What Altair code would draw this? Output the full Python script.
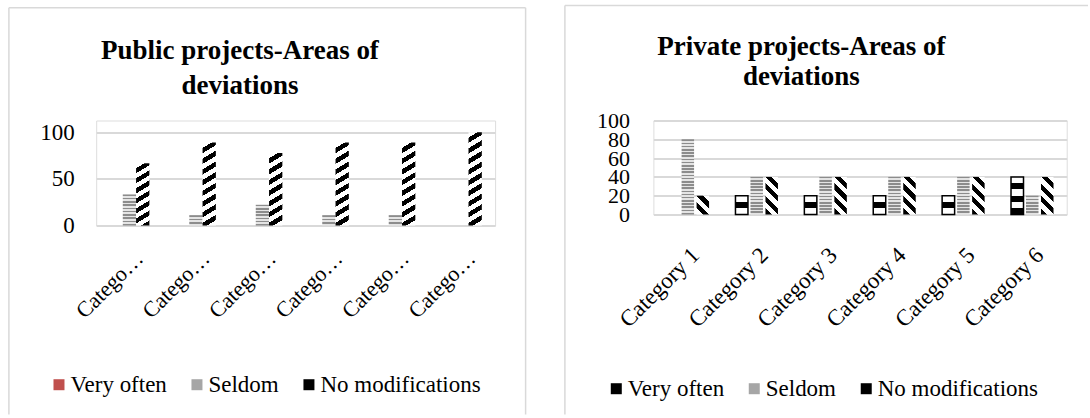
import altair as alt
import pandas as pd

# ---------------- data ----------------
categories = ["Category 1", "Category 2", "Category 3", "Category 4", "Category 5", "Category 6"]
series_names = ["Very often", "Seldom", "No modifications"]

public_very_often = [0, 0, 0, 0, 0, 0]
public_seldom = [33.3, 11.1, 22.2, 11.1, 11.1, 0]
public_no_modifications = [66.7, 88.9, 77.8, 88.9, 88.9, 100]

private_very_often = [0, 20, 20, 20, 20, 40]
private_seldom = [80, 40, 40, 40, 40, 20]
private_no_modifications = [20, 40, 40, 40, 40, 40]

public_ticks = [0, 50, 100]
private_ticks = [0, 20, 40, 60, 80, 100]

public_title = ["Public projects-Areas of", "deviations"]
private_title = ["Private projects-Areas of", "deviations"]

FONT = "Liberation Serif"
GRID = "#d9d9d9"


def long_table(vo, se, nm):
    rows = []
    for s, vals in zip(series_names, [vo, se, nm]):
        for c, v in zip(categories, vals):
            rows.append({"cat": c, "series": s, "val": v})
    return pd.DataFrame(rows)


def stripe_fill(colors, n, kind, k=0.0):
    n = max(1, int(n))
    if kind == "h":
        x1, y1, x2, y2 = 0, 0, 0, 1
    else:
        s = (k + 1) / (k * k + 1)
        if kind == "/":
            x1, y1, x2, y2 = 0, 0, s * k, s
        else:
            x1, y1, x2, y2 = 1, 0, 1 - s * k, s
    stops = []
    for i in range(n):
        col = colors[i % 2]
        stops.append(alt.GradientStop(color=col, offset=round(i / n, 4)))
        stops.append(alt.GradientStop(color=col, offset=round((i + 1) / n, 4)))
    return alt.LinearGradient(gradient="linear", stops=stops, x1=x1, y1=y1, x2=x2, y2=y2)


def panel(df, width, height, y_range, ticks, y_pad, y_fs, x_fs, x_limit, x_pad, x_off,
          pad_inner, off_inner, off_outer, colors, patterns, title_lines,
          title_dx, title_offset, title_lh, legend_x, legend_y, legend_fs, frame):
    X = alt.X("cat:N", sort=categories, title=None,
              scale=alt.Scale(paddingInner=pad_inner, paddingOuter=pad_inner / 2),
              axis=alt.Axis(labelAngle=315, labelFont=FONT, labelFontSize=x_fs,
                            labelLimit=x_limit, labelPadding=x_pad, labelOffset=x_off,
                            labelColor="black", domain=False, ticks=False))
    XO = alt.XOffset("series:N", sort=series_names,
                     scale=alt.Scale(paddingInner=off_inner, paddingOuter=off_outer))
    Y = alt.Y("val:Q", title=None,
              scale=alt.Scale(domain=[0, 100], nice=False, range=y_range),
              axis=alt.Axis(values=ticks, grid=True, gridColor=GRID, gridWidth=2,
                            domain=False, ticks=False, labelFont=FONT, labelFontSize=y_fs,
                            labelPadding=y_pad, labelOverlap=False, labelColor="black"))

    base = alt.Chart(df).mark_bar(opacity=0).encode(
        x=X, xOffset=XO, y=Y,
        fill=alt.Fill("series:N", sort=series_names,
                      scale=alt.Scale(domain=series_names, range=colors),
                      legend=alt.Legend(title=None, orient="none", legendX=legend_x,
                                        legendY=legend_y, direction="horizontal",
                                        symbolType="square", symbolSize=121,
                                        symbolStrokeWidth=0, symbolOpacity=1,
                                        labelFont=FONT, labelFontSize=legend_fs,
                                        labelColor="black", labelOffset=0,
                                        columnPadding=18, padding=0, labelLimit=400)))
    layers = [base]

    # bar width and plot height in px (style only, used for the stripe angle/density)
    plot_h = abs(y_range[0] - y_range[1])
    step = width / 6.0
    group = step * (1 - pad_inner)
    bar_w = group / (3 - off_inner + 2 * off_outer) * (1 - off_inner)

    for s in series_names:
        if s not in patterns:
            continue
        p = patterns[s]
        for c in categories:
            v = float(df[(df.cat == c) & (df.series == s)].val.iloc[0])
            if v <= 0:
                continue
            h = v / 100.0 * plot_h
            if p["kind"] == "h":
                n = round(h / p["band"])
                grad = stripe_fill(p["colors"], n, "h")
            else:
                slope = p["slope"]
                k = slope * bar_w / h
                n = round((h + bar_w * slope) / p["band"])
                grad = stripe_fill(p["colors"], n, p["kind"], k)
            mk = dict(fill=grad)
            if p.get("stroke"):
                mk.update(stroke=p["stroke"], strokeWidth=p.get("sw", 1))
            lay = alt.Chart(df).transform_filter(
                f"datum.cat == '{c}' && datum.series == '{s}'"
            ).mark_bar(**mk).encode(x=X, xOffset=XO, y=Y)
            layers.append(lay)

    fdf = pd.DataFrame({"k": [0]})
    fl, ft, fr, fb, draw_right = frame
    rule = dict(color=GRID, strokeWidth=1.5)
    layers.append(alt.Chart(fdf).mark_rule(**rule).encode(
        x=alt.value(fl), y=alt.value(ft), y2=alt.value(fb)))
    layers.append(alt.Chart(fdf).mark_rule(**rule).encode(
        x=alt.value(fl), x2=alt.value(fr), y=alt.value(ft)))
    if draw_right:
        layers.append(alt.Chart(fdf).mark_rule(**rule).encode(
            x=alt.value(fr), y=alt.value(ft), y2=alt.value(fb)))

    return alt.layer(*layers).properties(
        width=width, height=height,
        title=alt.TitleParams(text=title_lines, font=FONT, fontSize=27, fontWeight="bold",
                              color="black", anchor="middle", frame="group", dx=title_dx,
                              offset=title_offset, lineHeight=title_lh))


pub = long_table(public_very_often, public_seldom, public_no_modifications)
pri = long_table(private_very_often, private_seldom, private_no_modifications)

left = panel(
    pub, 399, 105, [105, 11.7], public_ticks, 22, 23, 22, 88, 22, 3,
    0.4, 0.0, 0.0, ["#c0504d", "#a6a6a6", "#000000"],
    {"Seldom": {"kind": "h", "band": 1.6, "colors": ["#8c8c8c", "#e4e4e4"]},
     "No modifications": {"kind": "/", "band": 5.2, "slope": 0.6,
                          "colors": ["#ffffff", "#000000"]}},
    public_title, -55.7, -92.5, 35, -48.7, 252.5, 23,
    (-87.3, -112.7, 429.5, 294.0, True))

right = panel(
    pri, 413.4, 94, [94, 0], private_ticks, 24, 22, 23, 300, 29, 0,
    0.347, 0.167, 0.083, ["#000000", "#a6a6a6", "#000000"],
    {"Very often": {"kind": "h", "band": 6.3, "colors": ["#ffffff", "#000000"],
                    "stroke": "#000000", "sw": 1.5},
     "Seldom": {"kind": "h", "band": 1.6, "colors": ["#8c8c8c", "#e4e4e4"]},
     "No modifications": {"kind": "\\", "band": 6.5, "slope": 1.0,
                          "colors": ["#ffffff", "#000000"]}},
    private_title, -58.7, -86.5, 30, -48.6, 256.5, 23,
    (-88.5, -115.0, 434.7, 294.0, False))

chart = alt.hconcat(left, right, spacing=36.3).resolve_scale(
    fill="independent", x="independent", y="independent", xOffset="independent"
).resolve_legend(fill="independent").properties(
    padding={"left": 7.2, "top": 3.5, "right": 0, "bottom": 0},
    background="white",
).configure_view(stroke=None).configure_legend(
    labelFont=FONT, labelFontSize=23, labelColor="black", labelLimit=400
).configure(font=FONT)

chart.save("out.html", embed_options={"renderer": "svg", "actions": False})
